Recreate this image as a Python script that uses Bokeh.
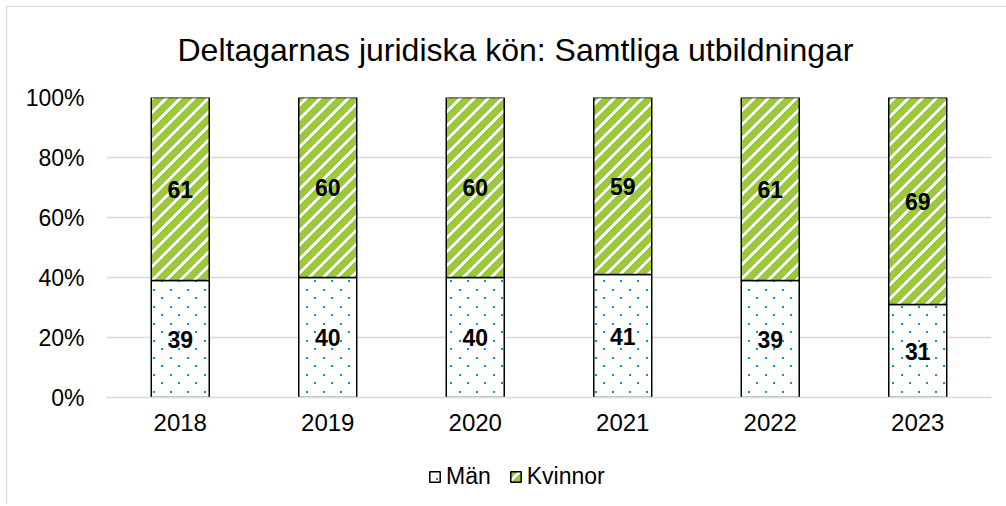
import base64
import struct
import zlib

from bokeh.plotting import figure
from bokeh.layouts import column
from bokeh.models import (ColumnDataSource, FactorRange, Range1d, LabelSet,
                          PrintfTickFormatter, FixedTicker, ImageURLTexture, Legend)
from bokeh.core.properties import value
from bokeh.transform import stack
from bokeh.embed import file_html
from bokeh.resources import INLINE

years = ["2018", "2019", "2020", "2021", "2022", "2023"]
men = [39, 40, 40, 41, 39, 31]
women = [61, 60, 60, 59, 61, 69]
series = ["Män", "Kvinnor"]
yticks = [0, 20, 40, 60, 80, 100]
title_text = "Deltagarnas juridiska kön: Samtliga utbildningar"

FONT = "Liberation Sans"
BLUE = (10, 150, 214)
GREEN = (155, 200, 60)
GRID = "#d9d9d9"


def png_uri(w, h, pix):
    rows = []
    for y in range(h):
        row = bytearray([0])
        for x in range(w):
            row.extend(pix(x, y))
        rows.append(bytes(row))
    raw = b"".join(rows)

    def chunk(t, d):
        return (struct.pack(">I", len(d)) + t + d +
                struct.pack(">I", zlib.crc32(t + d) & 0xFFFFFFFF))
    png = (b"\x89PNG\r\n\x1a\n" +
           chunk(b"IHDR", struct.pack(">IIBBBBB", w, h, 8, 6, 0, 0, 0)) +
           chunk(b"IDAT", zlib.compress(raw)) + chunk(b"IEND", b""))
    return "data:image/png;base64," + base64.b64encode(png).decode()


# texture tiles (styling only)
DOT_T = 17


def dot_pix(x, y):
    on = (x < 2 and y < 2) or (8 <= x < 10 and 8 <= y < 10)
    return (*BLUE, 255) if on else (255, 255, 255, 255)


STR_T = 14


def stripe_pix(x, y):
    on = ((x + y) % STR_T) < 10
    return (*GREEN, 255) if on else (255, 255, 255, 255)


DOTS_URI = png_uri(DOT_T, DOT_T, dot_pix)
STRIPES_URI = png_uri(STR_T, STR_T, stripe_pix)

src = ColumnDataSource(dict(
    year=years,
    **{series[0]: men, series[1]: women},
    men_mid=[m / 2 for m in men],
    women_mid=[m + w / 2 for m, w in zip(men, women)],
    men_lbl=[str(m) for m in men],
    women_lbl=[str(w) for w in women],
))


def style_men():
    return dict(fill_color="white", line_color="black", line_width=1.5,
                hatch_pattern=value("dots"),
                hatch_extra={"dots": ImageURLTexture(url=DOTS_URI)},
                hatch_scale=DOT_T)


def style_women():
    return dict(fill_color="white", line_color="black", line_width=1.5,
                hatch_pattern=value("stripes"),
                hatch_extra={"stripes": ImageURLTexture(url=STRIPES_URI)},
                hatch_scale=STR_T)


p = figure(x_range=FactorRange(factors=years, range_padding=0),
           y_range=Range1d(0, 100),
           width=1006, height=450,
           output_backend="svg", toolbar_location=None,
           min_border_left=106, min_border_right=15,
           min_border_top=97, min_border_bottom=53)
p.border_fill_color = None
p.background_fill_color = "white"

p.vbar(x="year", bottom=0, top=stack(series[0]), width=0.393, source=src,
       **style_men())
p.vbar(x="year", bottom=stack(series[0]), top=stack(*series), width=0.393,
       source=src, **style_women())

for ycol, tcol in (("men_mid", "men_lbl"), ("women_mid", "women_lbl")):
    p.add_layout(LabelSet(x="year", y=ycol, text=tcol, source=src,
                          text_align="center", text_baseline="middle",
                          text_font=value(FONT), text_font_size="23px",
                          text_font_style="bold", text_color="black"))

p.title.text = title_text
p.title.text_font = FONT
p.title.text_font_size = "32px"
p.title.text_font_style = "normal"
p.title.text_color = "black"
p.title.align = "left"
p.title.offset = 71
p.title.standoff = 59

p.outline_line_color = None
p.xgrid.grid_line_color = None
p.ygrid.grid_line_color = GRID
p.ygrid.grid_line_width = 1.3

p.yaxis.ticker = FixedTicker(ticks=yticks)
p.yaxis.formatter = PrintfTickFormatter(format="%d%%")
p.yaxis.axis_line_color = None
p.yaxis.major_label_standoff = 22
p.xaxis.axis_line_color = GRID
p.xaxis.axis_line_width = 1.5
p.xaxis.major_label_standoff = 16
for ax in (p.xaxis, p.yaxis):
    ax.major_tick_line_color = None
    ax.minor_tick_line_color = None
    ax.major_tick_out = 0
    ax.major_tick_in = 0
    ax.minor_tick_out = 0
    ax.minor_tick_in = 0
    ax.major_label_text_font = FONT
    ax.major_label_text_color = "black"
p.yaxis.major_label_text_font_size = "23px"
p.xaxis.major_label_text_font_size = "24px"

# legend strip below the chart
lf = figure(width=1006, height=54, output_backend="svg", toolbar_location=None,
            x_axis_type=None, y_axis_type=None,
            x_range=Range1d(0, 1), y_range=Range1d(0, 1),
            min_border=0, min_border_left=0, min_border_right=0,
            min_border_top=0, min_border_bottom=0)
lf.border_fill_color = None
lf.background_fill_color = None
lf.outline_line_color = None
lf.grid.visible = False
# empty-valued proxies so the legend can draw the swatches
nan = float("nan")
lm = lf.vbar(x=[0.5], top=[nan], bottom=[nan], width=0.1, **style_men())
lw = lf.vbar(x=[0.5], top=[nan], bottom=[nan], width=0.1, **style_women())
lg = Legend(items=[(series[0], [lm]), (series[1], [lw])],
            orientation="horizontal", location=(322, 14),
            label_text_font=FONT, label_text_font_size="23px",
            label_text_color="black", glyph_width=13, glyph_height=13,
            label_standoff=5, spacing=18, padding=0, margin=0,
            border_line_color=None, background_fill_alpha=0)
lf.add_layout(lg, "center")

page = column(p, lf, spacing=0)
page.styles = {
    "background-color": "white",
    "background-image": "linear-gradient(#d9d9d9,#d9d9d9), linear-gradient(#d9d9d9,#d9d9d9)",
    "background-position": "6px 6px, 6px 6px",
    "background-size": "1px 100%, 100% 1px",
    "background-repeat": "no-repeat",
}

open("out.html", "w").write(file_html(page, INLINE))
